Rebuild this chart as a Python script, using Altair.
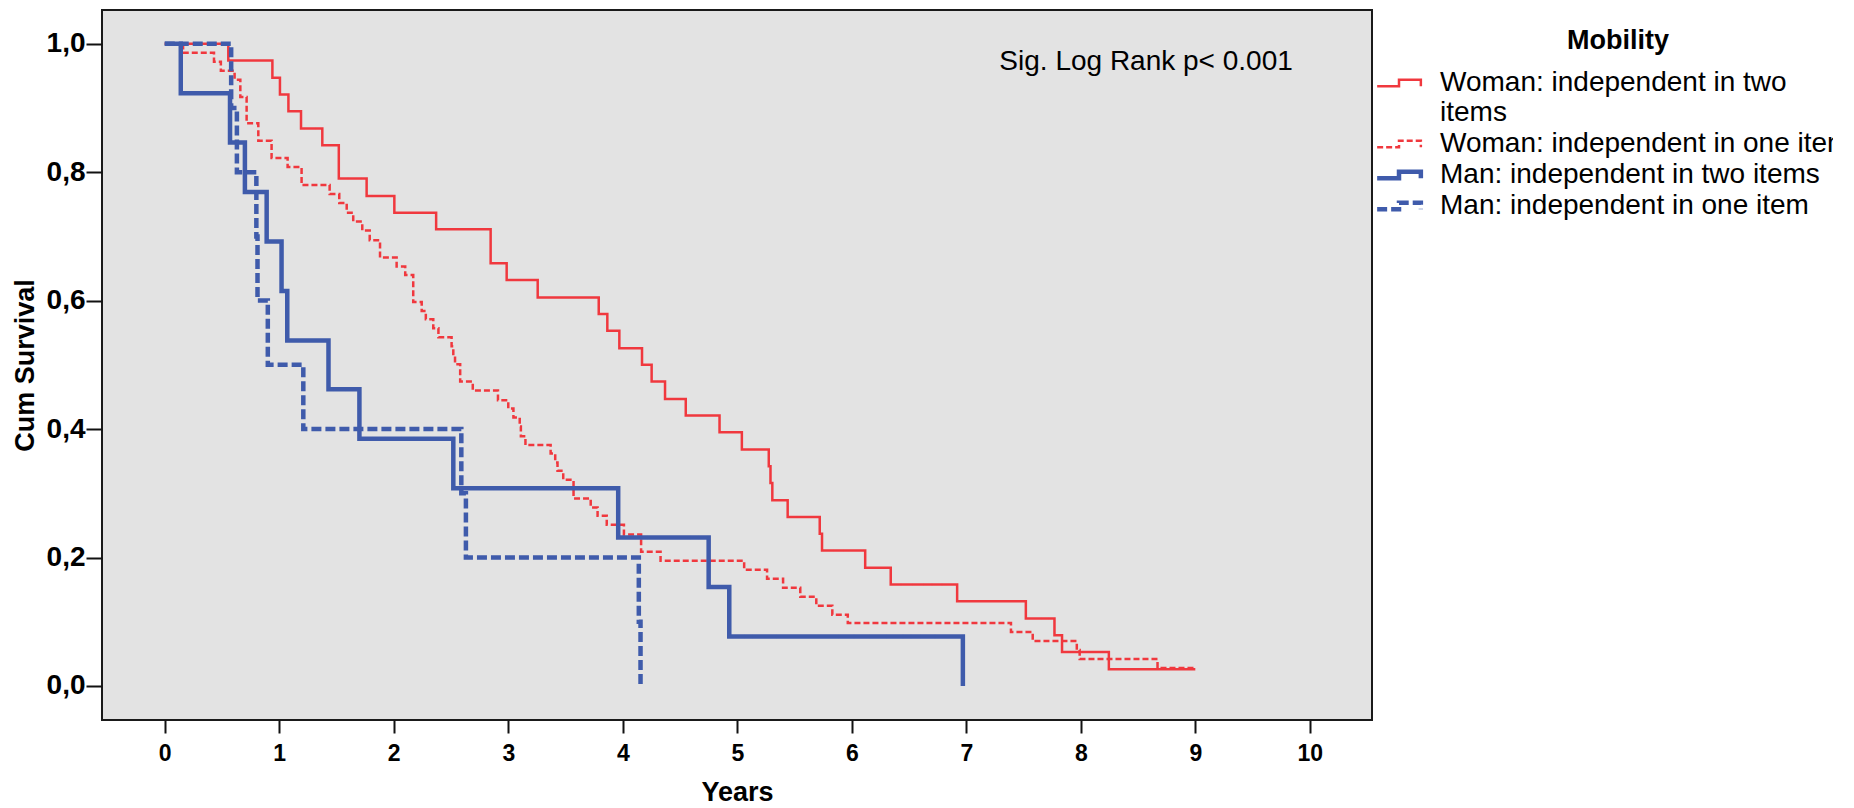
import altair as alt
import pandas as pd

# ---------------- data ----------------
groups = [
    "Woman: independent in two items",
    "Woman: independent in one item",
    "Man: independent in two items",
    "Man: independent in one item",
]

woman_two_years = [0, 0.555, 0.94, 1.006, 1.08, 1.19, 1.376, 1.52, 1.763, 2.005,
                   2.37, 2.846, 2.986, 3.257, 3.79, 3.865, 3.97, 4.168, 4.252, 4.369,
                   4.55, 4.845, 5.04, 5.275, 5.29, 5.306, 5.44, 5.72, 5.74, 6.117,
                   6.34, 6.92, 7.52, 7.77, 7.836, 8.245, 9.0]
woman_two_surv = [1.0, 0.974, 0.947, 0.921, 0.895, 0.868, 0.842, 0.790, 0.763, 0.737,
                  0.711, 0.658, 0.632, 0.605, 0.579, 0.553, 0.526, 0.500, 0.474, 0.447,
                  0.421, 0.395, 0.368, 0.342, 0.316, 0.289, 0.263, 0.237, 0.211, 0.184,
                  0.158, 0.132, 0.105, 0.079, 0.053, 0.026, 0.026]

woman_one_years = [0, 0.16, 0.43, 0.49, 0.61, 0.66, 0.715, 0.817, 0.933, 1.073,
                   1.195, 1.44, 1.524, 1.589, 1.646, 1.725, 1.79, 1.88, 2.025, 2.10,
                   2.17, 2.244, 2.28, 2.345, 2.39, 2.505, 2.52, 2.535, 2.58, 2.69,
                   2.91, 3.0, 3.045, 3.10, 3.11, 3.15, 3.37, 3.41, 3.43, 3.48,
                   3.57, 3.72, 3.78, 3.86, 4.01, 4.16, 4.33, 5.06, 5.26, 5.40,
                   5.55, 5.69, 5.83, 5.965, 7.39, 7.58, 7.965, 7.99, 8.67, 9.0]
woman_one_surv = [1.0, 0.986, 0.972, 0.958, 0.944, 0.917, 0.876, 0.849, 0.822, 0.808,
                  0.780, 0.766, 0.752, 0.737, 0.723, 0.709, 0.694, 0.667, 0.653, 0.640,
                  0.598, 0.584, 0.571, 0.557, 0.543, 0.529, 0.515, 0.501, 0.474, 0.460,
                  0.445, 0.432, 0.418, 0.404, 0.389, 0.375, 0.362, 0.348, 0.335, 0.321,
                  0.292, 0.278, 0.265, 0.251, 0.236, 0.209, 0.195, 0.181, 0.167, 0.153,
                  0.139, 0.125, 0.111, 0.098, 0.084, 0.070, 0.056, 0.042, 0.028, 0.028]

man_two_years = [0, 0.14, 0.57, 0.70, 0.89, 1.02, 1.07, 1.43, 1.70, 2.52, 3.96, 4.75, 4.93, 6.97]
man_two_surv = [1.0, 0.923, 0.846, 0.769, 0.692, 0.615, 0.538, 0.462, 0.385, 0.308,
                0.231, 0.154, 0.077, 0.0]

man_one_years = [0, 0.58, 0.63, 0.80, 0.81, 0.90, 1.21, 2.59, 2.63, 4.14, 4.155]
man_one_surv = [1.0, 0.9, 0.8, 0.7, 0.6, 0.5, 0.4, 0.3, 0.2, 0.1, 0.0]

x_ticks = [0, 1, 2, 3, 4, 5, 6, 7, 8, 9, 10]
y_ticks = [0.0, 0.2, 0.4, 0.6, 0.8, 1.0]

annotation_text = ["Sig. Log Rank p< 0.001"]
annotation_years = [8.57]
annotation_surv = [0.959]

# ---------------- build table ----------------
series = [
    (groups[0], woman_two_years, woman_two_surv),
    (groups[1], woman_one_years, woman_one_surv),
    (groups[2], man_two_years, man_two_surv),
    (groups[3], man_one_years, man_one_surv),
]
rows = []
for order, (g, ts, ss) in enumerate(series):
    for t, s in zip(ts, ss):
        rows.append({"group": g, "order": order, "years": t, "survival": s})
df = pd.DataFrame(rows)
ann = pd.DataFrame({"text": annotation_text, "years": annotation_years, "survival": annotation_surv})

RED = "#f0383e"
BLUE = "#3f5bab"
FONT = "Liberation Sans"

x_scale = alt.Scale(domain=[-0.548, 10.543], nice=False, zero=False)
y_scale = alt.Scale(domain=[-0.053, 1.0525], nice=False, zero=False)

legend = alt.Legend(
    title="Mobility",
    orient="none",
    legendX=1283,
    legendY=18,
    padding=0,
    titleFont=FONT,
    titleFontSize=27,
    titleFontWeight="bold",
    titleColor="black",
    titleAnchor="middle",
    titlePadding=14,
    labelFont=FONT,
    labelFontSize=28,
    labelColor="black",
    labelLimit=1000,
    labelOffset=27,
    labelExpr="datum.label == 'Woman: independent in two items' ? ['Woman: independent in two', 'items'] : datum.label",
    symbolType="M -1.9 0.28 H 0 V -0.28 H 1.9 V 0.28",
    symbolSize=529,
    symbolFillColor="transparent",
    rowPadding=3,
)

lines = alt.Chart(df).mark_line(interpolate="step-after").encode(
    x=alt.X(
        "years:Q",
        scale=x_scale,
        axis=alt.Axis(
            values=x_ticks,
            format="d",
            title="Years",
            titleFont=FONT,
            titleFontSize=27,
            titleFontWeight="bold",
            titleColor="black",
            titleY=80,
            titleBaseline="alphabetic",
            labelFont=FONT,
            labelFontSize=23,
            labelFontWeight="bold",
            labelColor="black",
            labelPadding=9,
            labelFlush=False,
            tickSize=13,
            tickWidth=2,
            tickColor="#111111",
            domain=False,
            grid=False,
        ),
    ),
    y=alt.Y(
        "survival:Q",
        scale=y_scale,
        axis=alt.Axis(
            values=y_ticks,
            labelExpr="replace(format(datum.value, '.1f'), '.', ',')",
            title="Cum Survival",
            titleFont=FONT,
            titleFontSize=27,
            titleFontWeight="bold",
            titleColor="black",
            titleX=-69,
            titleBaseline="alphabetic",
            labelFont=FONT,
            labelFontSize=28,
            labelFontWeight="bold",
            labelColor="black",
            labelPadding=1,
            tickSize=16,
            tickWidth=2,
            tickColor="#111111",
            domain=False,
            grid=False,
        ),
    ),
    color=alt.Color("group:N", sort=groups,
                    scale=alt.Scale(domain=groups, range=[RED, RED, BLUE, BLUE]),
                    legend=legend),
    strokeDash=alt.StrokeDash("group:N", sort=groups,
                              scale=alt.Scale(domain=groups, range=[[1, 0], [6, 3], [1, 0], [10, 4]]),
                              legend=legend),
    strokeWidth=alt.StrokeWidth("group:N", sort=groups,
                                scale=alt.Scale(type="ordinal", domain=groups, range=[2.5, 2.5, 4.5, 4.5]),
                                legend=legend),
    order=alt.Order("order:Q"),
)

label = alt.Chart(ann).mark_text(
    font=FONT,
    fontSize=28,
    align="center",
    baseline="alphabetic",
    color="black",
).encode(
    x=alt.X("years:Q", scale=x_scale),
    y=alt.Y("survival:Q", scale=y_scale),
    text="text:N",
)

chart = alt.layer(lines, label).properties(
    width=1270,
    height=710,
    padding={"left": 94, "top": 2, "right": 461, "bottom": 88},
    autosize=alt.AutoSizeParams(type="none"),
    background="white",
).configure_view(
    fill="#e3e3e3",
    stroke="#1a1a1a",
    strokeWidth=2,
)

chart.save("out.html", embed_options={"renderer": "svg", "actions": False})
